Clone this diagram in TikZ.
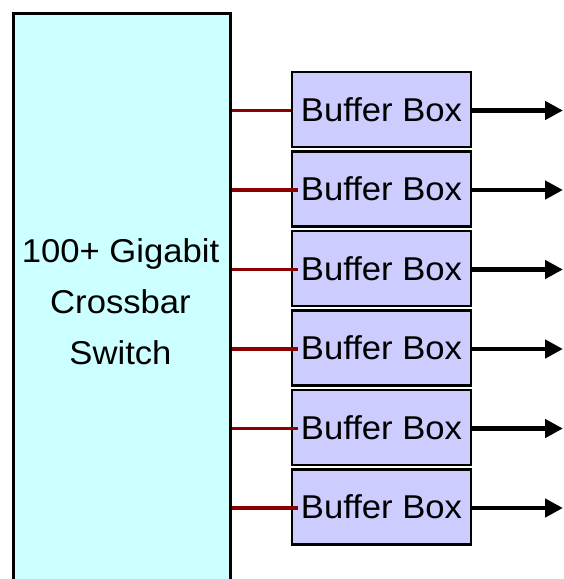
\documentclass[tikz,border=0pt]{standalone}
\usepackage{fontspec}
\setmainfont{Liberation Sans}[FakeStretch=1.05]
\usetikzlibrary{arrows.meta}
\definecolor{swfill}{HTML}{CCFFFF}
\definecolor{bbfill}{HTML}{CCCCFF}
\definecolor{linkred}{HTML}{8B0000}
\begin{document}
\begin{tikzpicture}[x=1pt,y=-1pt,
  bigbox/.style={draw=black,line width=2.5pt,fill=swfill,minimum width=217pt,minimum height=620pt,anchor=north west,inner sep=0pt},
  bufbox/.style={draw=black,line width=2.2pt,fill=bbfill,minimum width=179pt,minimum height=75pt,inner sep=0pt,font=\fontsize{33}{38}\selectfont},
  swtext/.style={font=\fontsize{33}{51}\selectfont,align=center,inner sep=0pt},
  linkline/.style={draw=linkred,line width=3.3pt},
  outarrow/.style={line width=4.8pt,-{Triangle[length=18pt,width=18pt]}}]
\useasboundingbox (0,0) rectangle (563,579);
\clip (0,0) rectangle (563,579);
\node[bigbox] (sw) at (12,12) {};
\node[swtext] (swl) at (120.5,302) {100+ Gigabit\\Crossbar\\Switch};
\foreach \i in {1,...,6} {
  \node[bufbox] (b\i) at (381.5,{109.5+79.5*(\i-1)}) {Buffer Box};
  \coordinate (o\i) at (563,{110.5+79.5*(\i-1)});
}
\draw[linkline] (sw.east |- o1) -- (b1.west |- o1);
\foreach \i in {2,...,6} {
  \draw[linkline] (sw.east |- o\i) -- ([xshift=7pt]b\i.west |- o\i);
}
\foreach \i in {1,...,6} {
  \draw[outarrow] (b\i.east |- o\i) -- (o\i);
}
\end{tikzpicture}
\end{document}
